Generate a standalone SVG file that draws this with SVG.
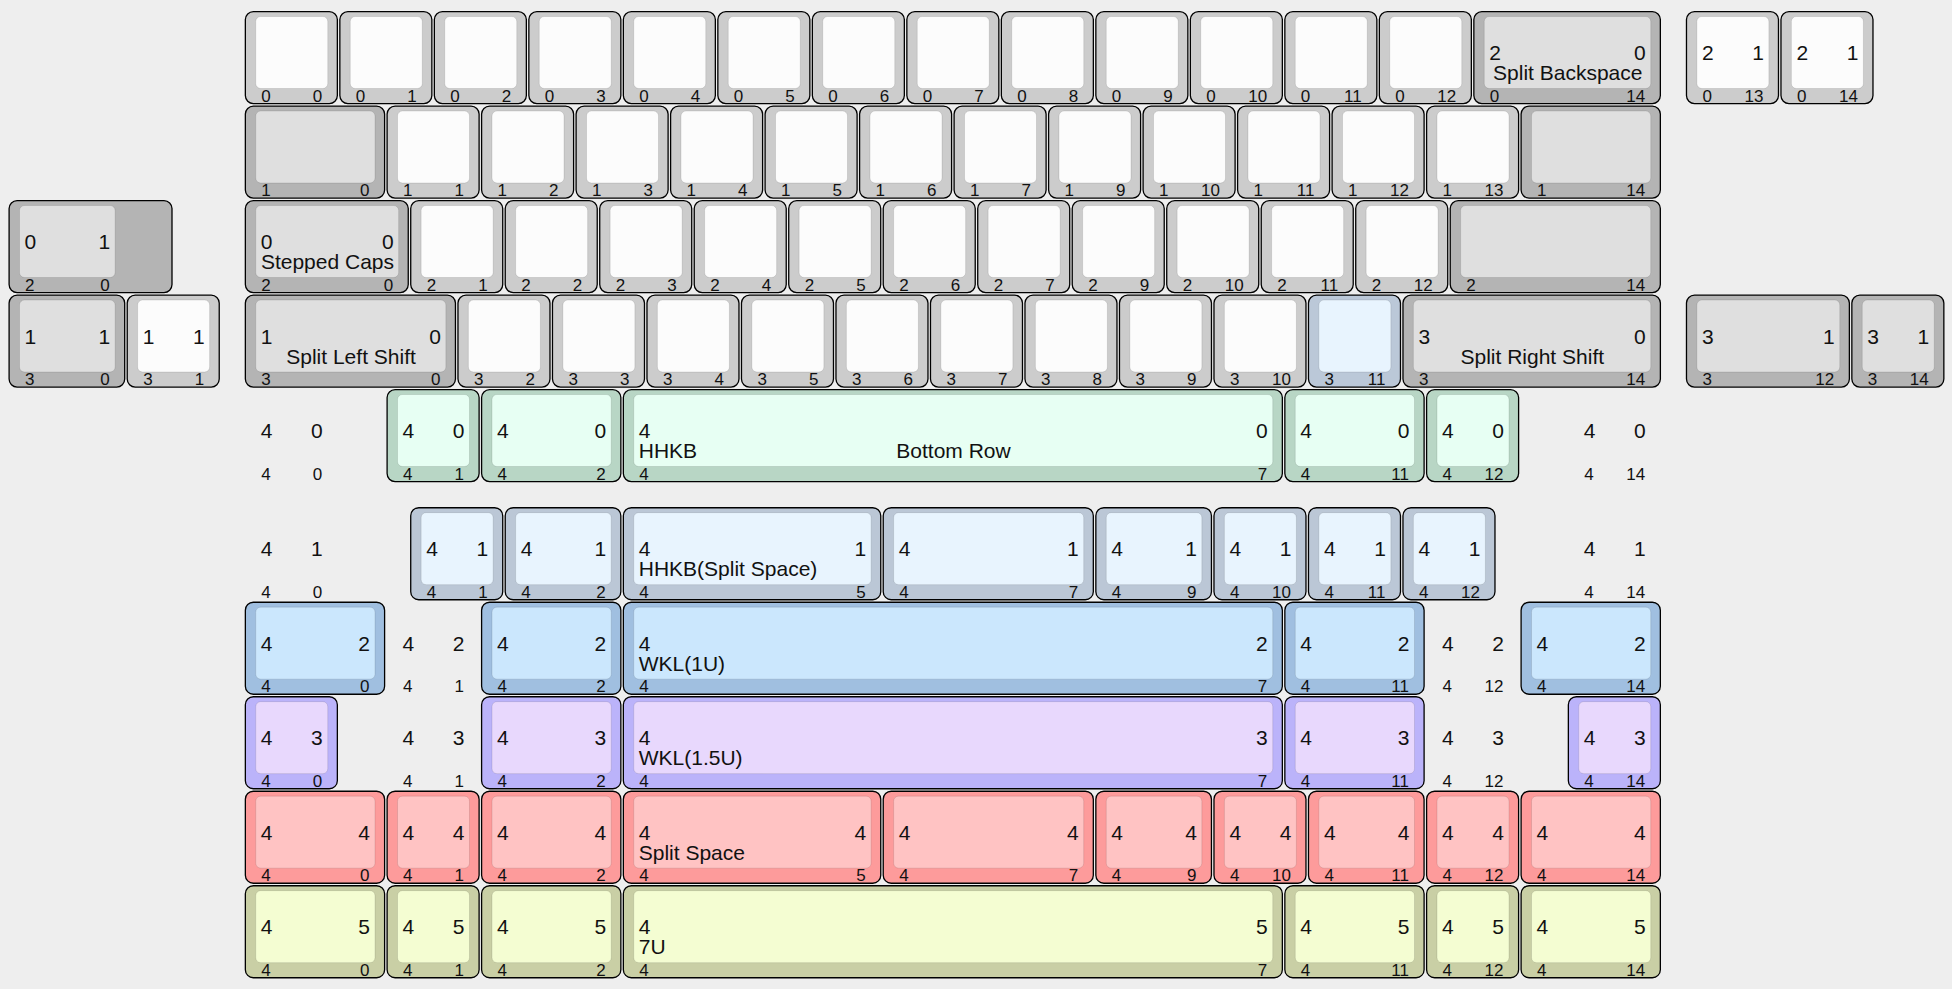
<svg xmlns="http://www.w3.org/2000/svg" width="1952" height="989" viewBox="0 0 1952 989">
<style>
text{font-family:"Liberation Sans",Arial,sans-serif;font-size:21px;fill:#111}
text.f{font-size:17px}
.e{text-anchor:end}
.m{text-anchor:middle}
.w{--o:#cccccc;--i:#fcfcfc}
.g{--o:#b4b4b4;--i:#dfdfdf}
.lb{--o:#bbc8d8;--i:#e8f4fe}
.gr{--o:#b8d6c5;--i:#e7fff3}
.bg{--o:#bbc7d6;--i:#e8f4fe}
.bl{--o:#a0bfe0;--i:#cbe7fd}
.pu{--o:#bbb3fa;--i:#e8d8fd}
.re{--o:#fd9b9b;--i:#ffc3c3}
.ye{--o:#c9cfa5;--i:#f4fdd2}
</style>
<rect width="1952" height="989" fill="#eeeeee"/>
<defs>
<g id="u1"><rect style="fill:var(--o)" stroke="#000" stroke-width="1.3" x=".6" y=".6" width="92" height="92" rx="8"/><rect style="fill:var(--i)" stroke="#000" stroke-opacity="0.1" x="11" y="5.5" width="72" height="72" rx="5"/></g>
<g id="u125"><rect style="fill:var(--o)" stroke="#000" stroke-width="1.3" x=".6" y=".6" width="115.6" height="92" rx="8"/><rect style="fill:var(--i)" stroke="#000" stroke-opacity="0.1" x="11" y="5.5" width="95.6" height="72" rx="5"/></g>
<g id="u15"><rect style="fill:var(--o)" stroke="#000" stroke-width="1.3" x=".6" y=".6" width="139.25" height="92" rx="8"/><rect style="fill:var(--i)" stroke="#000" stroke-opacity="0.1" x="11" y="5.5" width="119.25" height="72" rx="5"/></g>
<g id="u175"><rect style="fill:var(--o)" stroke="#000" stroke-width="1.3" x=".6" y=".6" width="162.9" height="92" rx="8"/><rect style="fill:var(--i)" stroke="#000" stroke-opacity="0.1" x="11" y="5.5" width="142.9" height="72" rx="5"/></g>
<g id="u2"><rect style="fill:var(--o)" stroke="#000" stroke-width="1.3" x=".6" y=".6" width="186.5" height="92" rx="8"/><rect style="fill:var(--i)" stroke="#000" stroke-opacity="0.1" x="11" y="5.5" width="166.5" height="72" rx="5"/></g>
<g id="u225"><rect style="fill:var(--o)" stroke="#000" stroke-width="1.3" x=".6" y=".6" width="210.1" height="92" rx="8"/><rect style="fill:var(--i)" stroke="#000" stroke-opacity="0.1" x="11" y="5.5" width="190.1" height="72" rx="5"/></g>
<g id="u275"><rect style="fill:var(--o)" stroke="#000" stroke-width="1.3" x=".6" y=".6" width="257.4" height="92" rx="8"/><rect style="fill:var(--i)" stroke="#000" stroke-opacity="0.1" x="11" y="5.5" width="237.4" height="72" rx="5"/></g>
<g id="u7"><rect style="fill:var(--o)" stroke="#000" stroke-width="1.3" x=".6" y=".6" width="659" height="92" rx="8"/><rect style="fill:var(--i)" stroke="#000" stroke-opacity="0.1" x="11" y="5.5" width="639" height="72" rx="5"/></g>
</defs>
<g id="connectors"></g>

<!-- Row 0 -->
<g id="k0_0" class="w" transform="translate(244.75,11)"><use href="#u1"/><text class="f" x="16.5" y="90.5">0</text><text class="f e" x="77.5" y="90.5">0</text></g>
<g id="k0_1" class="w" transform="translate(339.25,11)"><use href="#u1"/><text class="f" x="16.5" y="90.5">0</text><text class="f e" x="77.5" y="90.5">1</text></g>
<g id="k0_2" class="w" transform="translate(433.75,11)"><use href="#u1"/><text class="f" x="16.5" y="90.5">0</text><text class="f e" x="77.5" y="90.5">2</text></g>
<g id="k0_3" class="w" transform="translate(528.25,11)"><use href="#u1"/><text class="f" x="16.5" y="90.5">0</text><text class="f e" x="77.5" y="90.5">3</text></g>
<g id="k0_4" class="w" transform="translate(622.75,11)"><use href="#u1"/><text class="f" x="16.5" y="90.5">0</text><text class="f e" x="77.5" y="90.5">4</text></g>
<g id="k0_5" class="w" transform="translate(717.25,11)"><use href="#u1"/><text class="f" x="16.5" y="90.5">0</text><text class="f e" x="77.5" y="90.5">5</text></g>
<g id="k0_6" class="w" transform="translate(811.75,11)"><use href="#u1"/><text class="f" x="16.5" y="90.5">0</text><text class="f e" x="77.5" y="90.5">6</text></g>
<g id="k0_7" class="w" transform="translate(906.25,11)"><use href="#u1"/><text class="f" x="16.5" y="90.5">0</text><text class="f e" x="77.5" y="90.5">7</text></g>
<g id="k0_8" class="w" transform="translate(1000.75,11)"><use href="#u1"/><text class="f" x="16.5" y="90.5">0</text><text class="f e" x="77.5" y="90.5">8</text></g>
<g id="k0_9" class="w" transform="translate(1095.25,11)"><use href="#u1"/><text class="f" x="16.5" y="90.5">0</text><text class="f e" x="77.5" y="90.5">9</text></g>
<g id="k0_10" class="w" transform="translate(1189.75,11)"><use href="#u1"/><text class="f" x="16.5" y="90.5">0</text><text class="f e" x="77.5" y="90.5">10</text></g>
<g id="k0_11" class="w" transform="translate(1284.25,11)"><use href="#u1"/><text class="f" x="16.5" y="90.5">0</text><text class="f e" x="77.5" y="90.5">11</text></g>
<g id="k0_12" class="w" transform="translate(1378.75,11)"><use href="#u1"/><text class="f" x="16.5" y="90.5">0</text><text class="f e" x="77.5" y="90.5">12</text></g>
<g id="k0_14" class="g" transform="translate(1473.25,11)"><use href="#u2"/><text x="16" y="49">2</text><text class="e" x="172.5" y="49">0</text><text class="m" x="94.5" y="69">Split Backspace</text><text class="f" x="16.5" y="90.5">0</text><text class="f e" x="172" y="90.5">14</text></g>
<g id="k0_13b" class="w" transform="translate(1685.875,11)"><use href="#u1"/><text x="16" y="49">2</text><text class="e" x="78" y="49">1</text><text class="f" x="16.5" y="90.5">0</text><text class="f e" x="77.5" y="90.5">13</text></g>
<g id="k0_14b" class="w" transform="translate(1780.375,11)"><use href="#u1"/><text x="16" y="49">2</text><text class="e" x="78" y="49">1</text><text class="f" x="16.5" y="90.5">0</text><text class="f e" x="77.5" y="90.5">14</text></g>

<!-- Row 1 -->
<g id="k1_0" class="g" transform="translate(244.75,105.5)"><use href="#u15"/><text class="f" x="16.5" y="90.5">1</text><text class="f e" x="124.75" y="90.5">0</text></g>
<g id="k1_1" class="w" transform="translate(386.5,105.5)"><use href="#u1"/><text class="f" x="16.5" y="90.5">1</text><text class="f e" x="77.5" y="90.5">1</text></g>
<g id="k1_2" class="w" transform="translate(481,105.5)"><use href="#u1"/><text class="f" x="16.5" y="90.5">1</text><text class="f e" x="77.5" y="90.5">2</text></g>
<g id="k1_3" class="w" transform="translate(575.5,105.5)"><use href="#u1"/><text class="f" x="16.5" y="90.5">1</text><text class="f e" x="77.5" y="90.5">3</text></g>
<g id="k1_4" class="w" transform="translate(670,105.5)"><use href="#u1"/><text class="f" x="16.5" y="90.5">1</text><text class="f e" x="77.5" y="90.5">4</text></g>
<g id="k1_5" class="w" transform="translate(764.5,105.5)"><use href="#u1"/><text class="f" x="16.5" y="90.5">1</text><text class="f e" x="77.5" y="90.5">5</text></g>
<g id="k1_6" class="w" transform="translate(859,105.5)"><use href="#u1"/><text class="f" x="16.5" y="90.5">1</text><text class="f e" x="77.5" y="90.5">6</text></g>
<g id="k1_7" class="w" transform="translate(953.5,105.5)"><use href="#u1"/><text class="f" x="16.5" y="90.5">1</text><text class="f e" x="77.5" y="90.5">7</text></g>
<g id="k1_9" class="w" transform="translate(1048,105.5)"><use href="#u1"/><text class="f" x="16.5" y="90.5">1</text><text class="f e" x="77.5" y="90.5">9</text></g>
<g id="k1_10" class="w" transform="translate(1142.5,105.5)"><use href="#u1"/><text class="f" x="16.5" y="90.5">1</text><text class="f e" x="77.5" y="90.5">10</text></g>
<g id="k1_11" class="w" transform="translate(1237,105.5)"><use href="#u1"/><text class="f" x="16.5" y="90.5">1</text><text class="f e" x="77.5" y="90.5">11</text></g>
<g id="k1_12" class="w" transform="translate(1331.5,105.5)"><use href="#u1"/><text class="f" x="16.5" y="90.5">1</text><text class="f e" x="77.5" y="90.5">12</text></g>
<g id="k1_13" class="w" transform="translate(1426,105.5)"><use href="#u1"/><text class="f" x="16.5" y="90.5">1</text><text class="f e" x="77.5" y="90.5">13</text></g>
<g id="k1_14" class="g" transform="translate(1520.5,105.5)"><use href="#u15"/><text class="f" x="16.5" y="90.5">1</text><text class="f e" x="124.75" y="90.5">14</text></g>

<!-- Row 2 -->
<g id="k2_0b" class="g" transform="translate(8.5,200)"><rect style="fill:var(--o)" stroke="#000" stroke-width="1.3" x=".6" y=".6" width="162.9" height="92" rx="8"/><rect style="fill:var(--i)" stroke="#000" stroke-opacity="0.1" x="11" y="5.5" width="95.6" height="72" rx="5"/><text x="16" y="49">0</text><text class="e" x="101.6" y="49">1</text><text class="f" x="16.5" y="90.5">2</text><text class="f e" x="101.1" y="90.5">0</text></g>
<g id="k2_0" class="g" transform="translate(244.75,200)"><use href="#u175"/><text x="16" y="49">0</text><text class="e" x="148.9" y="49">0</text><text class="m" x="82.7" y="69">Stepped Caps</text><text class="f" x="16.5" y="90.5">2</text><text class="f e" x="148.4" y="90.5">0</text></g>
<g id="k2_1" class="w" transform="translate(410.125,200)"><use href="#u1"/><text class="f" x="16.5" y="90.5">2</text><text class="f e" x="77.5" y="90.5">1</text></g>
<g id="k2_2" class="w" transform="translate(504.625,200)"><use href="#u1"/><text class="f" x="16.5" y="90.5">2</text><text class="f e" x="77.5" y="90.5">2</text></g>
<g id="k2_3" class="w" transform="translate(599.125,200)"><use href="#u1"/><text class="f" x="16.5" y="90.5">2</text><text class="f e" x="77.5" y="90.5">3</text></g>
<g id="k2_4" class="w" transform="translate(693.625,200)"><use href="#u1"/><text class="f" x="16.5" y="90.5">2</text><text class="f e" x="77.5" y="90.5">4</text></g>
<g id="k2_5" class="w" transform="translate(788.125,200)"><use href="#u1"/><text class="f" x="16.5" y="90.5">2</text><text class="f e" x="77.5" y="90.5">5</text></g>
<g id="k2_6" class="w" transform="translate(882.625,200)"><use href="#u1"/><text class="f" x="16.5" y="90.5">2</text><text class="f e" x="77.5" y="90.5">6</text></g>
<g id="k2_7" class="w" transform="translate(977.125,200)"><use href="#u1"/><text class="f" x="16.5" y="90.5">2</text><text class="f e" x="77.5" y="90.5">7</text></g>
<g id="k2_9" class="w" transform="translate(1071.625,200)"><use href="#u1"/><text class="f" x="16.5" y="90.5">2</text><text class="f e" x="77.5" y="90.5">9</text></g>
<g id="k2_10" class="w" transform="translate(1166.125,200)"><use href="#u1"/><text class="f" x="16.5" y="90.5">2</text><text class="f e" x="77.5" y="90.5">10</text></g>
<g id="k2_11" class="w" transform="translate(1260.625,200)"><use href="#u1"/><text class="f" x="16.5" y="90.5">2</text><text class="f e" x="77.5" y="90.5">11</text></g>
<g id="k2_12" class="w" transform="translate(1355.125,200)"><use href="#u1"/><text class="f" x="16.5" y="90.5">2</text><text class="f e" x="77.5" y="90.5">12</text></g>
<g id="k2_14" class="g" transform="translate(1449.625,200)"><use href="#u225"/><text class="f" x="16.5" y="90.5">2</text><text class="f e" x="195.6" y="90.5">14</text></g>

<!-- Row 3 -->
<g id="k3_0b" class="g" transform="translate(8.5,294.5)"><use href="#u125"/><text x="16" y="49">1</text><text class="e" x="101.6" y="49">1</text><text class="f" x="16.5" y="90.5">3</text><text class="f e" x="101.1" y="90.5">0</text></g>
<g id="k3_1b" class="w" transform="translate(126.625,294.5)"><use href="#u1"/><text x="16" y="49">1</text><text class="e" x="78" y="49">1</text><text class="f" x="16.5" y="90.5">3</text><text class="f e" x="77.5" y="90.5">1</text></g>
<g id="k3_0" class="g" transform="translate(244.75,294.5)"><use href="#u225"/><text x="16" y="49">1</text><text class="e" x="196.1" y="49">0</text><text class="m" x="106.3" y="69">Split Left Shift</text><text class="f" x="16.5" y="90.5">3</text><text class="f e" x="195.6" y="90.5">0</text></g>
<g id="k3_2" class="w" transform="translate(457.375,294.5)"><use href="#u1"/><text class="f" x="16.5" y="90.5">3</text><text class="f e" x="77.5" y="90.5">2</text></g>
<g id="k3_3" class="w" transform="translate(551.875,294.5)"><use href="#u1"/><text class="f" x="16.5" y="90.5">3</text><text class="f e" x="77.5" y="90.5">3</text></g>
<g id="k3_4" class="w" transform="translate(646.375,294.5)"><use href="#u1"/><text class="f" x="16.5" y="90.5">3</text><text class="f e" x="77.5" y="90.5">4</text></g>
<g id="k3_5" class="w" transform="translate(740.875,294.5)"><use href="#u1"/><text class="f" x="16.5" y="90.5">3</text><text class="f e" x="77.5" y="90.5">5</text></g>
<g id="k3_6" class="w" transform="translate(835.375,294.5)"><use href="#u1"/><text class="f" x="16.5" y="90.5">3</text><text class="f e" x="77.5" y="90.5">6</text></g>
<g id="k3_7" class="w" transform="translate(929.875,294.5)"><use href="#u1"/><text class="f" x="16.5" y="90.5">3</text><text class="f e" x="77.5" y="90.5">7</text></g>
<g id="k3_8" class="w" transform="translate(1024.375,294.5)"><use href="#u1"/><text class="f" x="16.5" y="90.5">3</text><text class="f e" x="77.5" y="90.5">8</text></g>
<g id="k3_9" class="w" transform="translate(1118.875,294.5)"><use href="#u1"/><text class="f" x="16.5" y="90.5">3</text><text class="f e" x="77.5" y="90.5">9</text></g>
<g id="k3_10" class="w" transform="translate(1213.375,294.5)"><use href="#u1"/><text class="f" x="16.5" y="90.5">3</text><text class="f e" x="77.5" y="90.5">10</text></g>
<g id="k3_11" class="lb" transform="translate(1307.875,294.5)"><use href="#u1"/><text class="f" x="16.5" y="90.5">3</text><text class="f e" x="77.5" y="90.5">11</text></g>
<g id="k3_14" class="g" transform="translate(1402.375,294.5)"><use href="#u275"/><text x="16" y="49">3</text><text class="e" x="243.4" y="49">0</text><text class="m" x="129.9" y="69">Split Right Shift</text><text class="f" x="16.5" y="90.5">3</text><text class="f e" x="242.9" y="90.5">14</text></g>
<g id="k3_12b" class="g" transform="translate(1685.875,294.5)"><use href="#u175"/><text x="16" y="49">3</text><text class="e" x="148.9" y="49">1</text><text class="f" x="16.5" y="90.5">3</text><text class="f e" x="148.4" y="90.5">12</text></g>
<g id="k3_14b" class="g" transform="translate(1851.25,294.5)"><use href="#u1"/><text x="16" y="49">3</text><text class="e" x="78" y="49">1</text><text class="f" x="16.5" y="90.5">3</text><text class="f e" x="77.5" y="90.5">14</text></g>

<!-- Row 4 HHKB -->
<g id="d4_0" transform="translate(244.75,389)"><text x="16" y="49">4</text><text class="e" x="78" y="49">0</text><text class="f" x="16.5" y="90.5">4</text><text class="f e" x="77.5" y="90.5">0</text></g>
<g id="k4_1" class="gr" transform="translate(386.5,389)"><use href="#u1"/><text x="16" y="49">4</text><text class="e" x="78" y="49">0</text><text class="f" x="16.5" y="90.5">4</text><text class="f e" x="77.5" y="90.5">1</text></g>
<g id="k4_2" class="gr" transform="translate(481,389)"><use href="#u15"/><text x="16" y="49">4</text><text class="e" x="125.25" y="49">0</text><text class="f" x="16.5" y="90.5">4</text><text class="f e" x="124.75" y="90.5">2</text></g>
<g id="k4_7" class="gr" transform="translate(622.75,389)"><use href="#u7"/><text x="16" y="49">4</text><text class="e" x="645" y="49">0</text><text x="16" y="69">HHKB</text><text class="m" x="330.75" y="69">Bottom Row</text><text class="f" x="16.5" y="90.5">4</text><text class="f e" x="644.5" y="90.5">7</text></g>
<g id="k4_11" class="gr" transform="translate(1284.25,389)"><use href="#u15"/><text x="16" y="49">4</text><text class="e" x="125.25" y="49">0</text><text class="f" x="16.5" y="90.5">4</text><text class="f e" x="124.75" y="90.5">11</text></g>
<g id="k4_12" class="gr" transform="translate(1426,389)"><use href="#u1"/><text x="16" y="49">4</text><text class="e" x="78" y="49">0</text><text class="f" x="16.5" y="90.5">4</text><text class="f e" x="77.5" y="90.5">12</text></g>
<g id="d4_14" transform="translate(1567.75,389)"><text x="16" y="49">4</text><text class="e" x="78" y="49">0</text><text class="f" x="16.5" y="90.5">4</text><text class="f e" x="77.5" y="90.5">14</text></g>

<!-- Row 5 HHKB split space -->
<g id="d5_0" transform="translate(244.75,507.125)"><text x="16" y="49">4</text><text class="e" x="78" y="49">1</text><text class="f" x="16.5" y="90.5">4</text><text class="f e" x="77.5" y="90.5">0</text></g>
<g id="k5_1" class="bg" transform="translate(410.125,507.125)"><use href="#u1"/><text x="16" y="49">4</text><text class="e" x="78" y="49">1</text><text class="f" x="16.5" y="90.5">4</text><text class="f e" x="77.5" y="90.5">1</text></g>
<g id="k5_2" class="bg" transform="translate(504.625,507.125)"><use href="#u125"/><text x="16" y="49">4</text><text class="e" x="101.6" y="49">1</text><text class="f" x="16.5" y="90.5">4</text><text class="f e" x="101.1" y="90.5">2</text></g>
<g id="k5_5" class="bg" transform="translate(622.75,507.125)"><use href="#u275"/><text x="16" y="49">4</text><text class="e" x="243.4" y="49">1</text><text x="16" y="69">HHKB(Split Space)</text><text class="f" x="16.5" y="90.5">4</text><text class="f e" x="242.9" y="90.5">5</text></g>
<g id="k5_7" class="bg" transform="translate(882.625,507.125)"><use href="#u225"/><text x="16" y="49">4</text><text class="e" x="196.1" y="49">1</text><text class="f" x="16.5" y="90.5">4</text><text class="f e" x="195.6" y="90.5">7</text></g>
<g id="k5_9" class="bg" transform="translate(1095.25,507.125)"><use href="#u125"/><text x="16" y="49">4</text><text class="e" x="101.6" y="49">1</text><text class="f" x="16.5" y="90.5">4</text><text class="f e" x="101.1" y="90.5">9</text></g>
<g id="k5_10" class="bg" transform="translate(1213.375,507.125)"><use href="#u1"/><text x="16" y="49">4</text><text class="e" x="78" y="49">1</text><text class="f" x="16.5" y="90.5">4</text><text class="f e" x="77.5" y="90.5">10</text></g>
<g id="k5_11" class="bg" transform="translate(1307.875,507.125)"><use href="#u1"/><text x="16" y="49">4</text><text class="e" x="78" y="49">1</text><text class="f" x="16.5" y="90.5">4</text><text class="f e" x="77.5" y="90.5">11</text></g>
<g id="k5_12" class="bg" transform="translate(1402.375,507.125)"><use href="#u1"/><text x="16" y="49">4</text><text class="e" x="78" y="49">1</text><text class="f" x="16.5" y="90.5">4</text><text class="f e" x="77.5" y="90.5">12</text></g>
<g id="d5_14" transform="translate(1567.75,507.125)"><text x="16" y="49">4</text><text class="e" x="78" y="49">1</text><text class="f" x="16.5" y="90.5">4</text><text class="f e" x="77.5" y="90.5">14</text></g>

<!-- Row 6 WKL 1U -->
<g id="k6_0" class="bl" transform="translate(244.75,601.625)"><use href="#u15"/><text x="16" y="49">4</text><text class="e" x="125.25" y="49">2</text><text class="f" x="16.5" y="90.5">4</text><text class="f e" x="124.75" y="90.5">0</text></g>
<g id="d6_1" transform="translate(386.5,601.625)"><text x="16" y="49">4</text><text class="e" x="78" y="49">2</text><text class="f" x="16.5" y="90.5">4</text><text class="f e" x="77.5" y="90.5">1</text></g>
<g id="k6_2" class="bl" transform="translate(481,601.625)"><use href="#u15"/><text x="16" y="49">4</text><text class="e" x="125.25" y="49">2</text><text class="f" x="16.5" y="90.5">4</text><text class="f e" x="124.75" y="90.5">2</text></g>
<g id="k6_7" class="bl" transform="translate(622.75,601.625)"><use href="#u7"/><text x="16" y="49">4</text><text class="e" x="645" y="49">2</text><text x="16" y="69">WKL(1U)</text><text class="f" x="16.5" y="90.5">4</text><text class="f e" x="644.5" y="90.5">7</text></g>
<g id="k6_11" class="bl" transform="translate(1284.25,601.625)"><use href="#u15"/><text x="16" y="49">4</text><text class="e" x="125.25" y="49">2</text><text class="f" x="16.5" y="90.5">4</text><text class="f e" x="124.75" y="90.5">11</text></g>
<g id="d6_12" transform="translate(1426,601.625)"><text x="16" y="49">4</text><text class="e" x="78" y="49">2</text><text class="f" x="16.5" y="90.5">4</text><text class="f e" x="77.5" y="90.5">12</text></g>
<g id="k6_14" class="bl" transform="translate(1520.5,601.625)"><use href="#u15"/><text x="16" y="49">4</text><text class="e" x="125.25" y="49">2</text><text class="f" x="16.5" y="90.5">4</text><text class="f e" x="124.75" y="90.5">14</text></g>

<!-- Row 7 WKL 1.5U -->
<g id="k7_0" class="pu" transform="translate(244.75,696.125)"><use href="#u1"/><text x="16" y="49">4</text><text class="e" x="78" y="49">3</text><text class="f" x="16.5" y="90.5">4</text><text class="f e" x="77.5" y="90.5">0</text></g>
<g id="d7_1" transform="translate(386.5,696.125)"><text x="16" y="49">4</text><text class="e" x="78" y="49">3</text><text class="f" x="16.5" y="90.5">4</text><text class="f e" x="77.5" y="90.5">1</text></g>
<g id="k7_2" class="pu" transform="translate(481,696.125)"><use href="#u15"/><text x="16" y="49">4</text><text class="e" x="125.25" y="49">3</text><text class="f" x="16.5" y="90.5">4</text><text class="f e" x="124.75" y="90.5">2</text></g>
<g id="k7_7" class="pu" transform="translate(622.75,696.125)"><use href="#u7"/><text x="16" y="49">4</text><text class="e" x="645" y="49">3</text><text x="16" y="69">WKL(1.5U)</text><text class="f" x="16.5" y="90.5">4</text><text class="f e" x="644.5" y="90.5">7</text></g>
<g id="k7_11" class="pu" transform="translate(1284.25,696.125)"><use href="#u15"/><text x="16" y="49">4</text><text class="e" x="125.25" y="49">3</text><text class="f" x="16.5" y="90.5">4</text><text class="f e" x="124.75" y="90.5">11</text></g>
<g id="d7_12" transform="translate(1426,696.125)"><text x="16" y="49">4</text><text class="e" x="78" y="49">3</text><text class="f" x="16.5" y="90.5">4</text><text class="f e" x="77.5" y="90.5">12</text></g>
<g id="k7_14" class="pu" transform="translate(1567.75,696.125)"><use href="#u1"/><text x="16" y="49">4</text><text class="e" x="78" y="49">3</text><text class="f" x="16.5" y="90.5">4</text><text class="f e" x="77.5" y="90.5">14</text></g>

<!-- Row 8 Split Space -->
<g id="k8_0" class="re" transform="translate(244.75,790.625)"><use href="#u15"/><text x="16" y="49">4</text><text class="e" x="125.25" y="49">4</text><text class="f" x="16.5" y="90.5">4</text><text class="f e" x="124.75" y="90.5">0</text></g>
<g id="k8_1" class="re" transform="translate(386.5,790.625)"><use href="#u1"/><text x="16" y="49">4</text><text class="e" x="78" y="49">4</text><text class="f" x="16.5" y="90.5">4</text><text class="f e" x="77.5" y="90.5">1</text></g>
<g id="k8_2" class="re" transform="translate(481,790.625)"><use href="#u15"/><text x="16" y="49">4</text><text class="e" x="125.25" y="49">4</text><text class="f" x="16.5" y="90.5">4</text><text class="f e" x="124.75" y="90.5">2</text></g>
<g id="k8_5" class="re" transform="translate(622.75,790.625)"><use href="#u275"/><text x="16" y="49">4</text><text class="e" x="243.4" y="49">4</text><text x="16" y="69">Split Space</text><text class="f" x="16.5" y="90.5">4</text><text class="f e" x="242.9" y="90.5">5</text></g>
<g id="k8_7" class="re" transform="translate(882.625,790.625)"><use href="#u225"/><text x="16" y="49">4</text><text class="e" x="196.1" y="49">4</text><text class="f" x="16.5" y="90.5">4</text><text class="f e" x="195.6" y="90.5">7</text></g>
<g id="k8_9" class="re" transform="translate(1095.25,790.625)"><use href="#u125"/><text x="16" y="49">4</text><text class="e" x="101.6" y="49">4</text><text class="f" x="16.5" y="90.5">4</text><text class="f e" x="101.1" y="90.5">9</text></g>
<g id="k8_10" class="re" transform="translate(1213.375,790.625)"><use href="#u1"/><text x="16" y="49">4</text><text class="e" x="78" y="49">4</text><text class="f" x="16.5" y="90.5">4</text><text class="f e" x="77.5" y="90.5">10</text></g>
<g id="k8_11" class="re" transform="translate(1307.875,790.625)"><use href="#u125"/><text x="16" y="49">4</text><text class="e" x="101.6" y="49">4</text><text class="f" x="16.5" y="90.5">4</text><text class="f e" x="101.1" y="90.5">11</text></g>
<g id="k8_12" class="re" transform="translate(1426,790.625)"><use href="#u1"/><text x="16" y="49">4</text><text class="e" x="78" y="49">4</text><text class="f" x="16.5" y="90.5">4</text><text class="f e" x="77.5" y="90.5">12</text></g>
<g id="k8_14" class="re" transform="translate(1520.5,790.625)"><use href="#u15"/><text x="16" y="49">4</text><text class="e" x="125.25" y="49">4</text><text class="f" x="16.5" y="90.5">4</text><text class="f e" x="124.75" y="90.5">14</text></g>

<!-- Row 9 7U -->
<g id="k9_0" class="ye" transform="translate(244.75,885.125)"><use href="#u15"/><text x="16" y="49">4</text><text class="e" x="125.25" y="49">5</text><text class="f" x="16.5" y="90.5">4</text><text class="f e" x="124.75" y="90.5">0</text></g>
<g id="k9_1" class="ye" transform="translate(386.5,885.125)"><use href="#u1"/><text x="16" y="49">4</text><text class="e" x="78" y="49">5</text><text class="f" x="16.5" y="90.5">4</text><text class="f e" x="77.5" y="90.5">1</text></g>
<g id="k9_2" class="ye" transform="translate(481,885.125)"><use href="#u15"/><text x="16" y="49">4</text><text class="e" x="125.25" y="49">5</text><text class="f" x="16.5" y="90.5">4</text><text class="f e" x="124.75" y="90.5">2</text></g>
<g id="k9_7" class="ye" transform="translate(622.75,885.125)"><use href="#u7"/><text x="16" y="49">4</text><text class="e" x="645" y="49">5</text><text x="16" y="69">7U</text><text class="f" x="16.5" y="90.5">4</text><text class="f e" x="644.5" y="90.5">7</text></g>
<g id="k9_11" class="ye" transform="translate(1284.25,885.125)"><use href="#u15"/><text x="16" y="49">4</text><text class="e" x="125.25" y="49">5</text><text class="f" x="16.5" y="90.5">4</text><text class="f e" x="124.75" y="90.5">11</text></g>
<g id="k9_12" class="ye" transform="translate(1426,885.125)"><use href="#u1"/><text x="16" y="49">4</text><text class="e" x="78" y="49">5</text><text class="f" x="16.5" y="90.5">4</text><text class="f e" x="77.5" y="90.5">12</text></g>
<g id="k9_14" class="ye" transform="translate(1520.5,885.125)"><use href="#u15"/><text x="16" y="49">4</text><text class="e" x="125.25" y="49">5</text><text class="f" x="16.5" y="90.5">4</text><text class="f e" x="124.75" y="90.5">14</text></g>
</svg>
